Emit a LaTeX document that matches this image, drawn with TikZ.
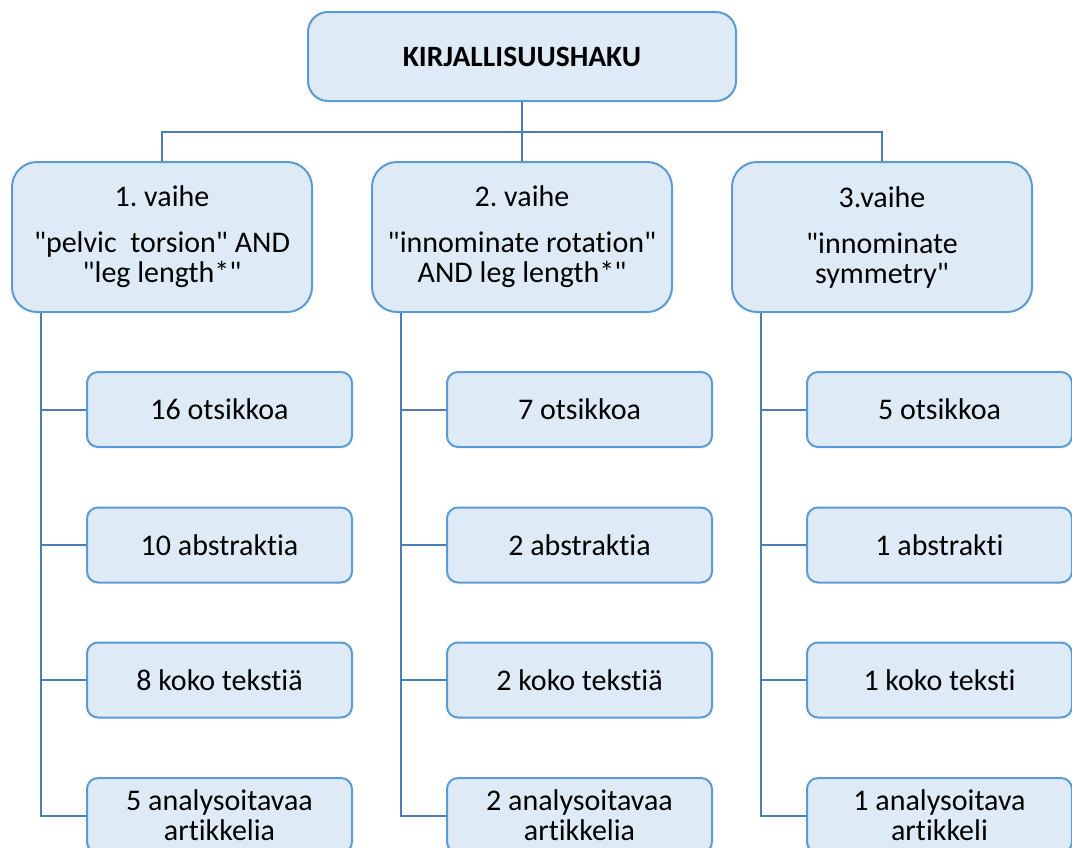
\documentclass[tikz,border=0pt]{standalone}
\usepackage{fontspec}
\setmainfont{Carlito}[Ligatures={NoCommon}]
\usepackage{tikz}
\definecolor{boxfill}{HTML}{DEEBF7}
\definecolor{boxline}{HTML}{5B9BD5}
\definecolor{connline}{HTML}{4A7EB4}
\newcommand{\qt}{\textquotedbl}

\begin{document}
\frenchspacing
\begin{tikzpicture}[x=1pt,y=-1pt,
    topbox/.style={draw=boxline, fill=boxfill, line width=2pt, rounded corners=20pt, minimum width=428pt, minimum height=89pt, font=\fontsize{29.5}{33}\selectfont\bfseries},
    stagebox/.style={draw=boxline, fill=boxfill, line width=2pt, rounded corners=25pt, minimum width=300pt, minimum height=150pt, align=center, font=\fontsize{30}{30}\selectfont},
    countbox/.style={draw=boxline, fill=boxfill, line width=2pt, rounded corners=11pt, minimum width=265pt, minimum height=75pt, align=center, font=\fontsize{30}{30}\selectfont},
    conn/.style={draw=connline, line width=2pt}]
  \useasboundingbox (0,0) rectangle (1072,847);
  \clip (0,0) rectangle (1072,847);

  % Top
  \node[topbox] (top) at (522,56.5) {KIRJALLISUUSHAKU};

  % Stages
  \node[stagebox] (s1) at (162,237) {1. vaihe\\[16pt]\qt pelvic\ \ torsion\qt{} AND\\\qt leg length*\qt};
  \node[stagebox] (s2) at (522,237) {2. vaihe\\[16pt]\qt innominate rotation\qt\\AND leg length*\qt};
  \node[stagebox] (s3) at (882,237) {3.vaihe\\[16pt]\qt innominate\\symmetry\qt};

  % Stage 1 counts
  \node[countbox] (c11) at (219.5,409.5) {16 otsikkoa};
  \node[countbox] (c12) at (219.5,545) {10 abstraktia};
  \node[countbox] (c13) at (219.5,680) {8 koko tekstiä};
  \node[countbox] (c14) at (219.5,815.5) {5 analysoitavaa\\artikkelia};

  % Stage 2 counts
  \node[countbox] (c21) at (579.5,409.5) {7 otsikkoa};
  \node[countbox] (c22) at (579.5,545) {2 abstraktia};
  \node[countbox] (c23) at (579.5,680) {2 koko tekstiä};
  \node[countbox] (c24) at (579.5,815.5) {2 analysoitavaa\\artikkelia};

  % Stage 3 counts
  \node[countbox] (c31) at (939.5,409.5) {5 otsikkoa};
  \node[countbox] (c32) at (939.5,545) {1 abstrakti};
  \node[countbox] (c33) at (939.5,680) {1 koko teksti};
  \node[countbox] (c34) at (939.5,815.5) {1 analysoitava\\artikkeli};

  % Top to stages
  \coordinate (bus) at (522,132);
  \draw[conn] (top.south) -- (s2.north);
  \draw[conn] (s1.north) |- (bus) -| (s3.north);

  % Spines to counts
  \foreach \s in {1,2,3} {
    \coordinate (sp\s) at ([xshift=30pt]s\s.south west);
    \foreach \r in {1,2,3,4}
      \draw[conn] (sp\s) |- (c\s\r.west);
  }
\end{tikzpicture}
\end{document}
